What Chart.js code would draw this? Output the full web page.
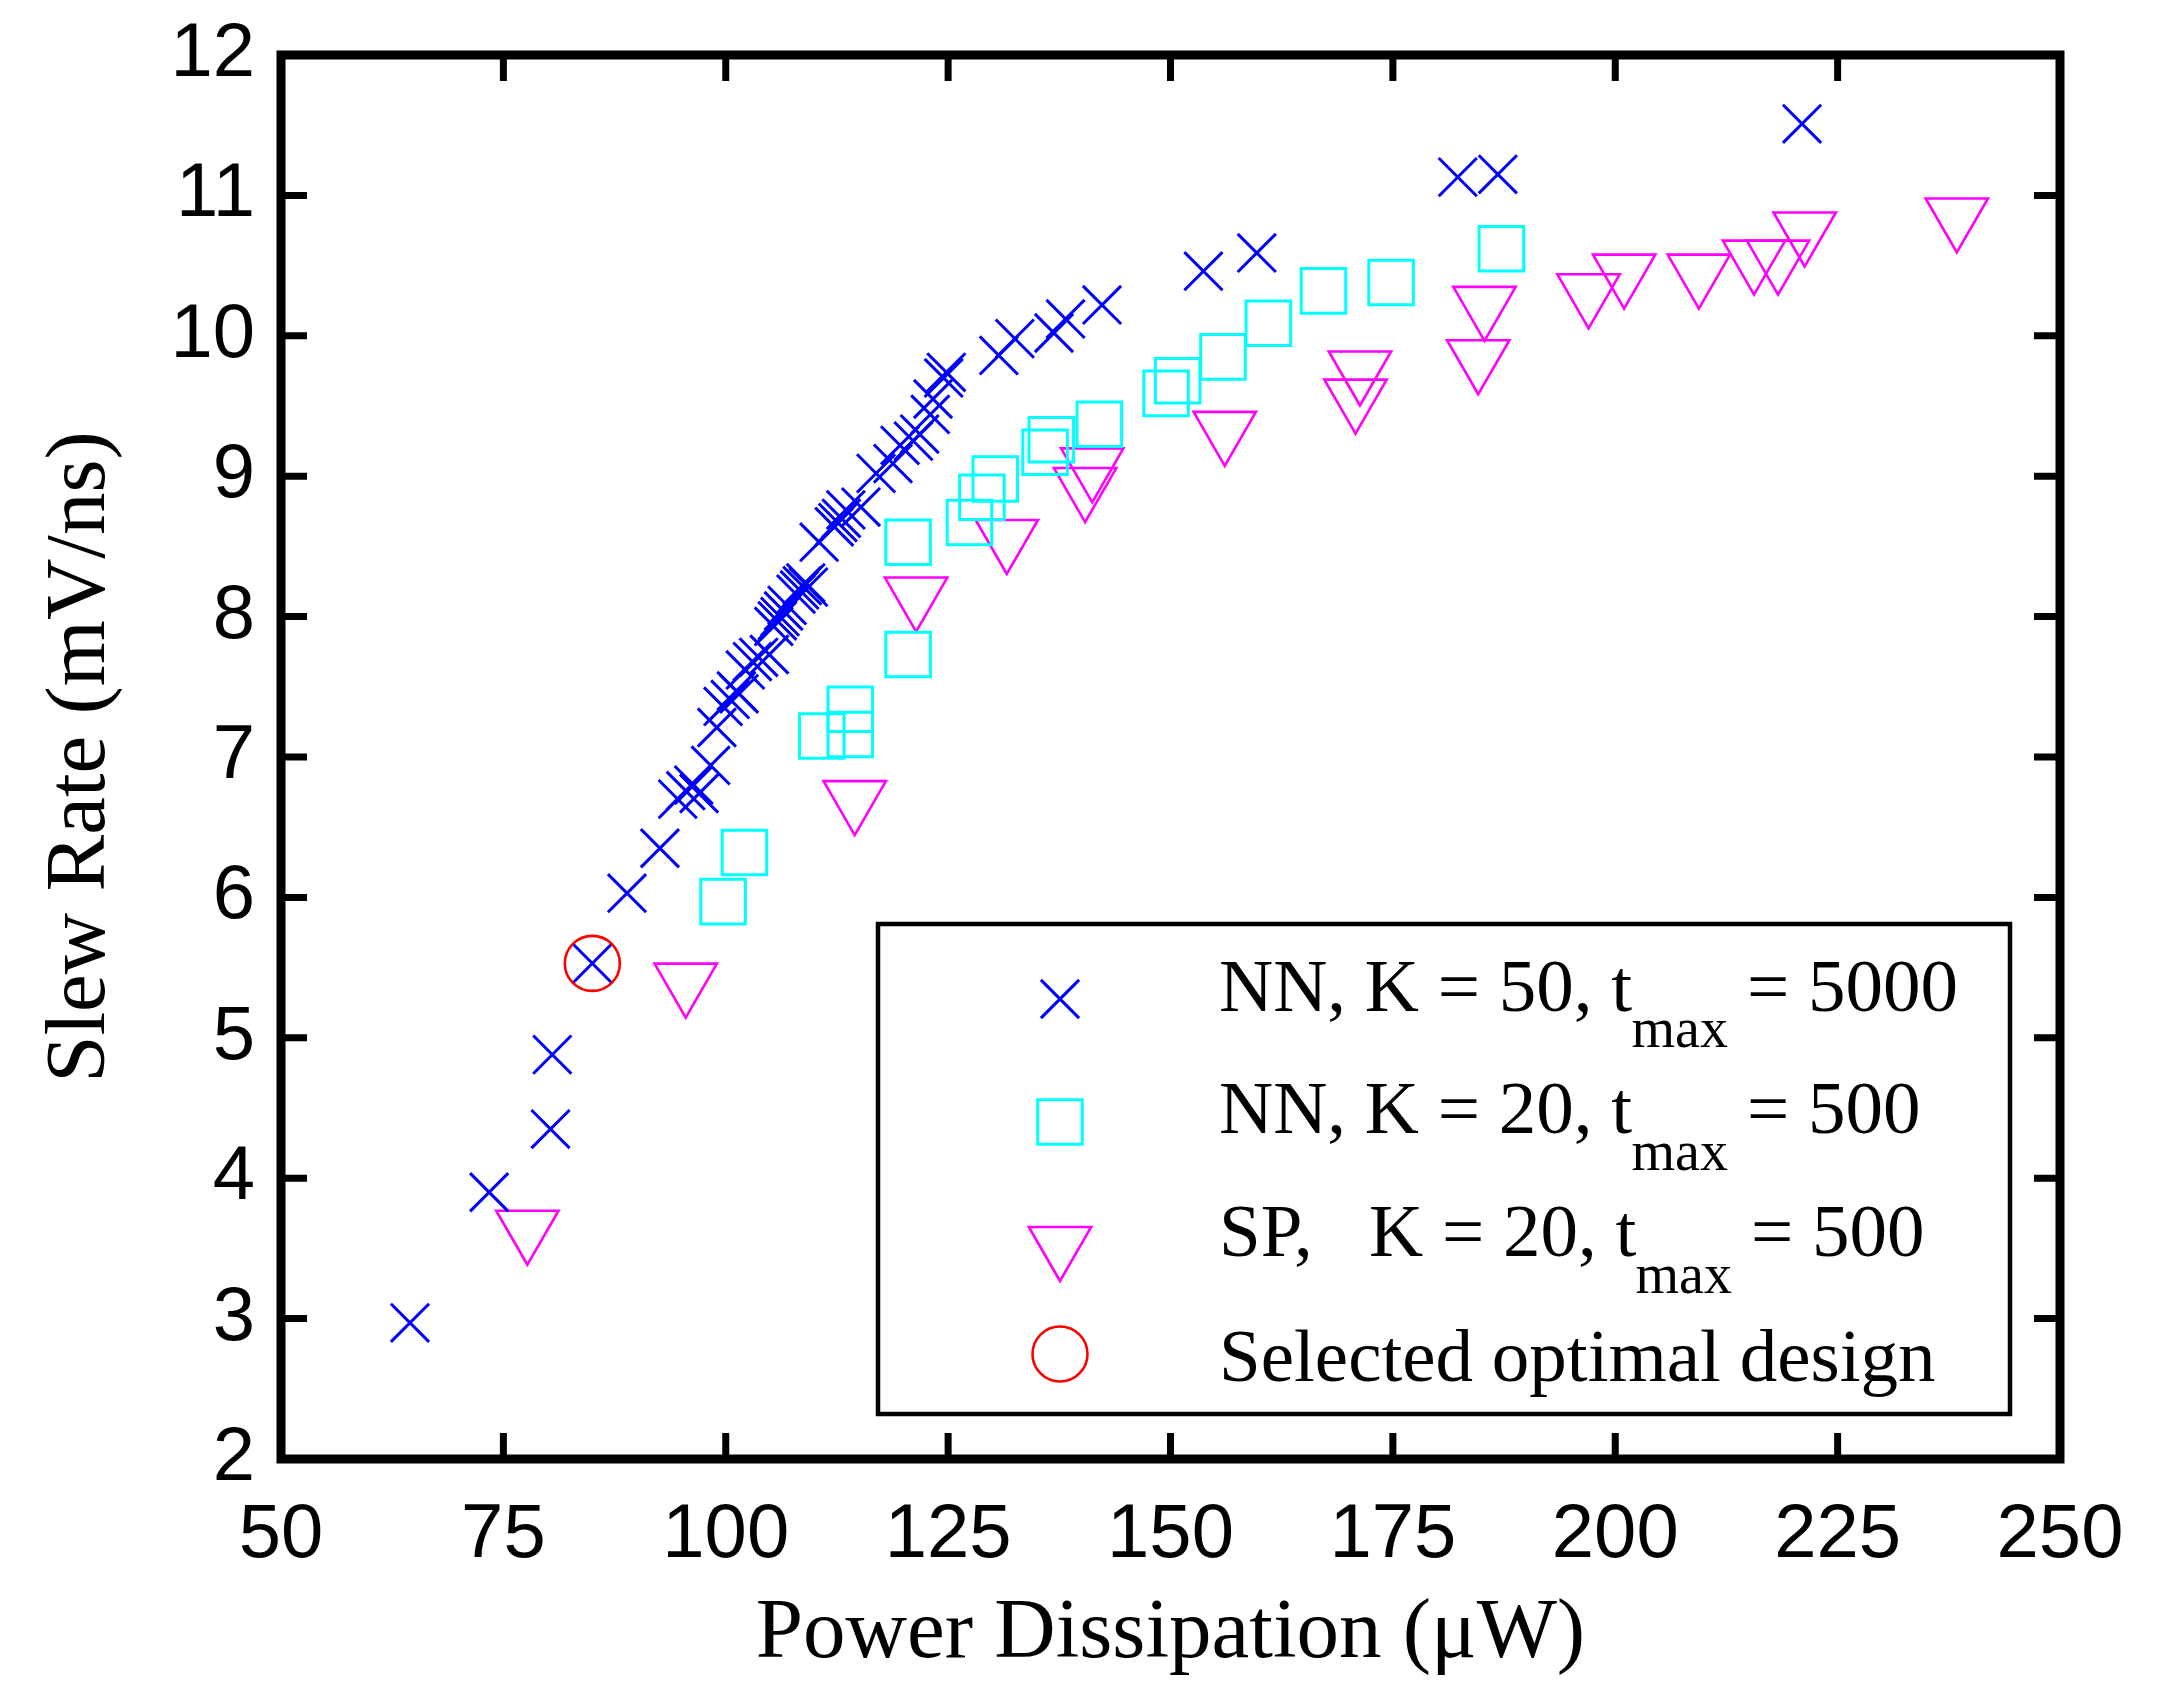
<!DOCTYPE html>
<html>
<head>
<meta charset="utf-8">
<title>Slew Rate vs Power Dissipation</title>
<script src="https://cdn.jsdelivr.net/npm/chart.js@4.4.1/dist/chart.umd.min.js"></script>
<style>
  html, body { margin: 0; padding: 0; background: #ffffff; }
  #wrap { width: 2168px; height: 1694px; position: relative; }
</style>
</head>
<body>
<div id="wrap"><canvas id="chart" width="2168" height="1694"></canvas></div>
<script>
// ---------------- data ----------------
const nnK50Power = [64.5, 73.4, 80.3, 80.5, 85.0, 88.9, 92.6, 94.6, 95.5, 96.4, 97.0, 98.3, 99.0, 99.7, 100.5, 101.2, 101.5, 102.2, 103.0, 103.7, 104.9, 105.4, 105.8, 106.1, 106.5, 106.9, 107.9, 108.3, 108.6, 109.0, 109.3, 110.5, 112.2, 112.6, 113.0, 113.5, 115.2, 116.9, 118.8, 119.6, 121.1, 121.8, 123.0, 123.3, 124.5, 124.8, 130.7, 132.5, 136.9, 138.2, 142.3, 153.7, 159.7, 182.3, 186.8, 221.0];
const nnK50Slew  = [2.97, 3.90, 4.35, 4.88, 5.53, 6.03, 6.35, 6.70, 6.76, 6.80, 6.74, 6.94, 7.21, 7.36, 7.41, 7.47, 7.45, 7.62, 7.68, 7.71, 7.73, 7.93, 7.97, 8.00, 8.04, 8.08, 8.16, 8.19, 8.22, 8.24, 8.21, 8.53, 8.64, 8.67, 8.70, 8.76, 8.78, 9.02, 9.09, 9.22, 9.25, 9.30, 9.44, 9.55, 9.70, 9.74, 9.86, 9.98, 10.02, 10.12, 10.22, 10.46, 10.59, 11.13, 11.15, 11.51];

const nnK20Power = [99.7, 102.1, 110.8, 114.0, 114.0, 120.5, 120.5, 127.4, 128.8, 130.3, 135.9, 136.6, 142.0, 149.5, 150.8, 155.9, 161.0, 167.2, 174.8, 187.2];
const nnK20Slew  = [5.97, 6.32, 7.15, 7.16, 7.34, 7.73, 8.53, 8.67, 8.85, 8.98, 9.17, 9.26, 9.37, 9.59, 9.68, 9.85, 10.09, 10.32, 10.38, 10.62];

const spPower = [77.7, 95.5, 114.5, 121.4, 131.6, 140.4, 141.2, 156.1, 170.8, 171.3, 184.6, 185.3, 197.0, 201.0, 209.4, 215.6, 218.3, 221.3, 238.4];
const spSlew  = [3.64, 5.40, 6.70, 8.15, 8.56, 8.93, 9.07, 9.33, 9.56, 9.76, 9.84, 10.22, 10.31, 10.45, 10.45, 10.55, 10.55, 10.75, 10.85];

const selectedPower = [85.0];
const selectedSlew  = [5.53];

const xTickValues = [50, 75, 100, 125, 150, 175, 200, 225, 250];
const yTickValues = [2, 3, 4, 5, 6, 7, 8, 9, 10, 11, 12];

const xTitle = 'Power Dissipation (\u03BCW)';
const yTitle = 'Slew Rate (mV/ns)';

const seriesLabels = ['NN, K = 50, tmax = 5000', 'NN, K = 20, tmax = 500', 'SP,   K = 20, tmax = 500', 'Selected optimal design'];

// ---------------- helpers ----------------
const toPoints = (xs, ys) => xs.map((v, i) => ({ x: v, y: ys[i] }));

const BLUE = '#0000ff', CYAN = '#00ffff', MAGENTA = '#ff00ff', RED = '#ff0000';
const SERIF = '"Liberation Serif", "Times New Roman", Times, serif';
const SANS = '"Liberation Sans", Arial, Helvetica, sans-serif';

const markerStyles = [
  { pointStyle: 'crossRot', radius: 27, rotation: 0, color: BLUE, width: 3 },
  { pointStyle: 'rect', radius: 31.5, rotation: 0, color: CYAN, width: 3 },
  { pointStyle: 'triangle', radius: 36, rotation: 180, color: MAGENTA, width: 2.6 },
  { pointStyle: 'circle', radius: 27.5, rotation: 0, color: RED, width: 2.6 }
];

function drawMarker(ctx, m, x, y) {
  ctx.save();
  ctx.strokeStyle = m.color;
  ctx.fillStyle = 'rgba(0,0,0,0)';
  ctx.lineWidth = m.width;
  if (Chart.helpers && Chart.helpers.drawPoint) {
    Chart.helpers.drawPoint(ctx, { pointStyle: m.pointStyle, radius: m.radius, rotation: m.rotation, borderWidth: m.width }, x, y);
  }
  ctx.restore();
}

// frame + inward ticks on all four sides (MATLAB box style)
const framePlugin = {
  id: 'matlabFrame',
  afterDraw(chart) {
    const { ctx, chartArea: a, scales: { x, y } } = chart;
    const tickLen = 26;
    ctx.save();
    ctx.strokeStyle = '#000';
    ctx.lineCap = 'butt';
    ctx.lineWidth = 7;
    ctx.beginPath();
    xTickValues.forEach(v => {
      if (v <= x.min || v >= x.max) return;
      const px = x.getPixelForValue(v);
      ctx.moveTo(px, a.bottom); ctx.lineTo(px, a.bottom - tickLen);
      ctx.moveTo(px, a.top); ctx.lineTo(px, a.top + tickLen);
    });
    yTickValues.forEach(v => {
      if (v <= y.min || v >= y.max) return;
      const py = y.getPixelForValue(v);
      ctx.moveTo(a.left, py); ctx.lineTo(a.left + tickLen, py);
      ctx.moveTo(a.right, py); ctx.lineTo(a.right - tickLen, py);
    });
    ctx.stroke();
    ctx.lineWidth = 9;
    ctx.lineJoin = 'miter';
    ctx.strokeRect(a.left, a.top, a.right - a.left, a.bottom - a.top);
    ctx.restore();
  }
};

// legend box inside the plot, with subscripted "max"
const legendRows = [
  { main: 'NN, K = 50, t', sub: 'max', tail: '= 5000', marker: 0, my: 944, by: 955.5, subX: 1350.5, tailX: 1466 },
  { main: 'NN, K = 20, t', sub: 'max', tail: '= 500',  marker: 1, my: 1067, by: 1078, subX: 1350.5, tailX: 1466 },
  { main: 'SP,   K = 20, t', sub: 'max', tail: '= 500', marker: 2, my: 1190, by: 1201, subX: 1354.5, tailX: 1470 },
  { main: 'Selected optimal design', sub: '', tail: '', marker: 3, my: 1299, by: 1326, subX: 0, tailX: 0 }
];

const legendPlugin = {
  id: 'boxLegend',
  afterDraw(chart) {
    const { ctx, chartArea: a } = chart;
    const left = a.left + 597, top = a.top + 869;
    const right = a.right - 50, bottom = a.bottom - 45;
    ctx.save();
    ctx.fillStyle = '#ffffff';
    ctx.fillRect(left, top, right - left, bottom - top);
    ctx.strokeStyle = '#000';
    ctx.lineWidth = 4.5;
    ctx.strokeRect(left, top, right - left, bottom - top);
    const markerX = a.left + 779;
    const textX = a.left + 938;
    ctx.fillStyle = '#000';
    ctx.textBaseline = 'alphabetic';
    ctx.textAlign = 'left';
    legendRows.forEach(r => {
      drawMarker(ctx, markerStyles[r.marker], markerX, a.top + r.my);
      ctx.fillStyle = '#000';
      ctx.font = '75px ' + SERIF;
      ctx.fillText(r.main, textX, a.top + r.by);
      if (r.sub) {
        ctx.font = '56px ' + SERIF;
        ctx.fillText(r.sub, a.left + r.subX, a.top + r.by + 36.5);
        ctx.font = '75px ' + SERIF;
        ctx.fillText(r.tail, a.left + r.tailX, a.top + r.by);
      }
    });
    ctx.restore();
  }
};

// ---------------- chart ----------------
const datasets = [
  { label: seriesLabels[3], data: toPoints(selectedPower, selectedSlew), m: markerStyles[3] },
  { label: seriesLabels[0], data: toPoints(nnK50Power, nnK50Slew), m: markerStyles[0] },
  { label: seriesLabels[1], data: toPoints(nnK20Power, nnK20Slew), m: markerStyles[1] },
  { label: seriesLabels[2], data: toPoints(spPower, spSlew), m: markerStyles[2] }
].map(d => ({
  label: d.label,
  data: d.data,
  showLine: false,
  pointStyle: d.m.pointStyle,
  pointRadius: d.m.radius,
  pointHoverRadius: d.m.radius,
  pointRotation: d.m.rotation,
  pointBorderColor: d.m.color,
  pointBackgroundColor: 'rgba(0,0,0,0)',
  pointBorderWidth: d.m.width,
  pointHoverBorderWidth: d.m.width,
  borderColor: d.m.color,
  backgroundColor: 'rgba(0,0,0,0)',
  clip: false
}));

new Chart(document.getElementById('chart'), {
  type: 'scatter',
  data: { datasets },
  options: {
    responsive: false,
    devicePixelRatio: 1,
    animation: false,
    events: [],
    layout: { padding: { top: 55, right: 108, bottom: 0, left: 0 } },
    plugins: {
      legend: { display: false },
      tooltip: { enabled: false },
      title: { display: false }
    },
    scales: {
      x: {
        type: 'linear',
        min: 50, max: 250,
        afterBuildTicks: s => { s.ticks = xTickValues.map(v => ({ value: v })); },
        afterFit: s => { s.height = 235; s.paddingLeft = 0; s.paddingRight = 0; },
        grid: { display: false, drawTicks: false },
        border: { display: false },
        ticks: { autoSkip: false, maxRotation: 0, padding: 31, color: '#000', font: { family: SANS, size: 76 } },
        title: { display: true, text: xTitle, color: '#000', font: { family: SERIF, size: 85 }, padding: { top: 0, bottom: 8 } }
      },
      y: {
        type: 'linear',
        min: 2, max: 12,
        afterBuildTicks: s => { s.ticks = yTickValues.map(v => ({ value: v })); },
        afterFit: s => { s.width = 281; s.paddingTop = 0; s.paddingBottom = 0; },
        grid: { display: false, drawTicks: false },
        border: { display: false },
        ticks: { autoSkip: false, padding: 26, color: '#000', font: { family: SANS, size: 76 } },
        title: { display: true, text: yTitle, color: '#000', font: { family: SERIF, size: 85 }, padding: { top: 31, bottom: 0 } }
      }
    }
  },
  plugins: [framePlugin, legendPlugin]
});
</script>
</body>
</html>
